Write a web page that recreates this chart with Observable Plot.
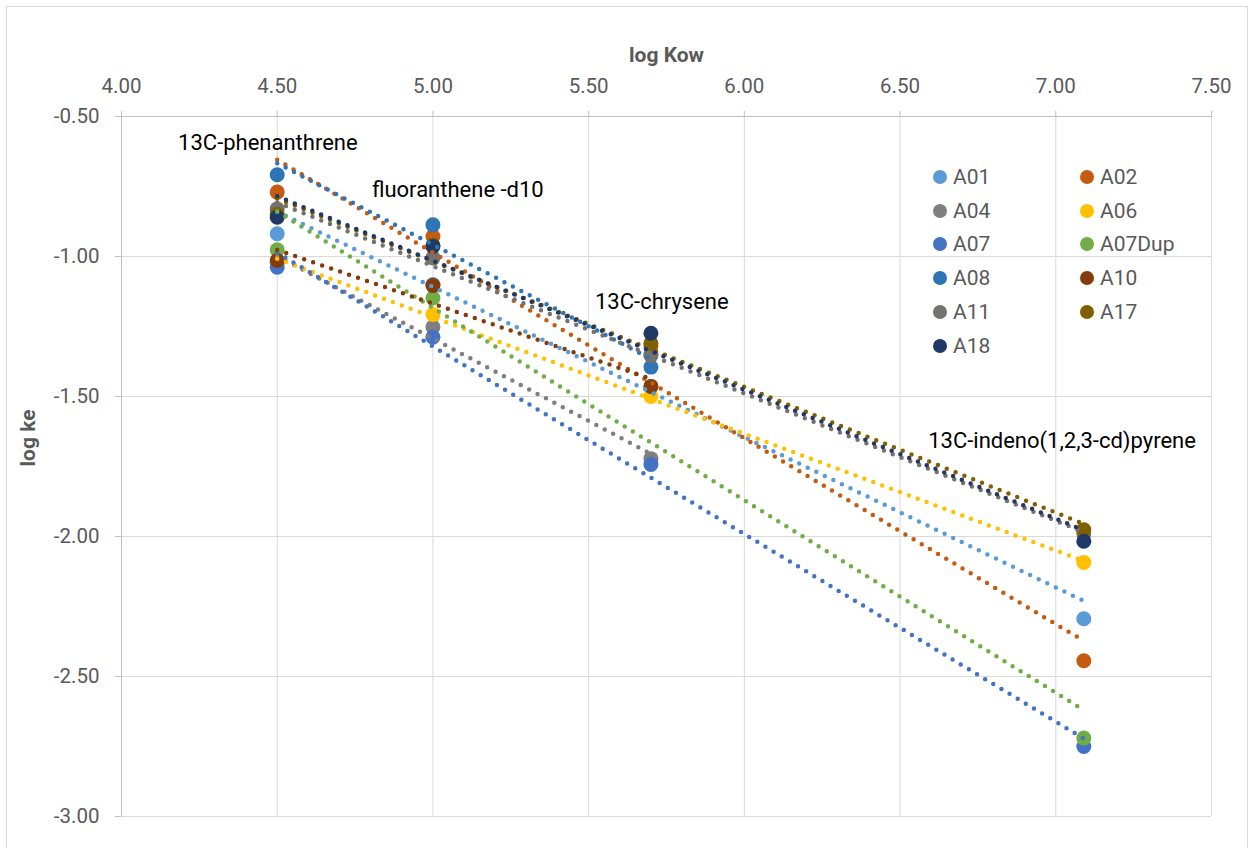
<!DOCTYPE html>
<html>
<head>
<meta charset="utf-8">
<script src="https://cdn.jsdelivr.net/npm/d3@7"></script>
<script src="https://cdn.jsdelivr.net/npm/@observablehq/plot@0.6"></script>
<style>
  html, body { margin: 0; padding: 0; background: #fff; overflow: hidden; }
  #wrap { position: relative; width: 1253px; height: 848px; }
  #frame { position: absolute; left: 6px; top: 6px; width: 1240px; height: 860px; border: 1px solid #D9D9D9; pointer-events: none; }
  #legend { position: absolute; left: 933px; top: 160px; display: grid; grid-template-columns: 147px 147px; grid-auto-rows: 33.8px; font-family: Roboto, sans-serif; font-size: 21px; color: #595959; }
  #legend .item { display: flex; align-items: center; }
  #legend .sw { width: 14px; height: 14px; border-radius: 50%; margin-right: 6px; }
</style>
</head>
<body>
<div id="wrap"><div id="chart"></div><div id="legend"></div><div id="frame"></div></div>
<script>
// x positions (log Kow) of the four compounds
const xKow = [4.5, 5.0, 5.7, 7.09];
const compoundLabels = ["13C-phenanthrene", "fluoranthene -d10", "13C-chrysene", "13C-indeno(1,2,3-cd)pyrene"];
const labelX = [4.47, 5.08, 5.735, 7.02];
const labelY = [-0.593, -0.764, -1.164, -1.657];

const seriesNames = ["A01", "A02", "A04", "A06", "A07", "A07Dup", "A08", "A10", "A11", "A17", "A18"];
const seriesColors = ["#5B9BD5", "#C55A11", "#7F7F7F", "#FFC000", "#4472C4", "#70AD47", "#2E75B6", "#843C0C", "#767171", "#7F6000", "#203864"];

// log ke values at each x (null = no value)
const A01 = [-0.919, -1.100, -1.350, -2.294];
const A02 = [-0.770, -0.929, -1.320, -2.444];
const A04 = [-1.023, -1.252, -1.722, null];
const A06 = [-1.020, -1.207, -1.500, -2.093];
const A07 = [-1.038, -1.288, -1.743, -2.750];
const A07Dup = [-0.976, -1.148, -1.464, -2.720];
const A08 = [-0.708, -0.887, -1.395, null];
const A10 = [-1.014, -1.104, -1.464, null];
const A11 = [-0.830, -1.005, -1.354, -1.990];
const A17 = [-0.850, -0.960, -1.310, -1.976];
const A18 = [-0.860, -0.964, -1.274, -2.017];

const seriesValues = [A01, A02, A04, A06, A07, A07Dup, A08, A10, A11, A17, A18];

const xTicks = [4, 4.5, 5, 5.5, 6, 6.5, 7, 7.5];
const yTicks = [-3, -2.5, -2, -1.5, -1, -0.5];

const rows = seriesNames.flatMap((s, i) =>
  seriesValues[i].map((v, j) => ({series: s, x: xKow[j], y: v})).filter(d => d.y != null)
);
const labels = compoundLabels.map((t, i) => ({text: t, x: labelX[i], y: labelY[i]}));
const fmt = d => d.toFixed(2);

const chart = Plot.plot({
  width: 1253,
  height: 848,
  marginLeft: 121,
  marginRight: 42,
  marginTop: 116,
  marginBottom: 32,
  style: {fontFamily: "Roboto, sans-serif", fontSize: "20.5px", color: "#595959", background: "transparent"},
  x: {domain: [4, 7.5]},
  y: {domain: [-3, -0.5]},
  color: {domain: seriesNames, range: seriesColors},
  marks: [
    Plot.gridX(xTicks, {stroke: "#D9D9D9", strokeOpacity: 1}),
    Plot.gridY(yTicks, {stroke: "#D9D9D9", strokeOpacity: 1}),
    Plot.ruleY([-0.5], {stroke: "#BFBFBF"}),
    Plot.ruleX([4], {stroke: "#BFBFBF"}),
    Plot.axisX(xTicks, {anchor: "top", tickFormat: fmt, tickSize: 6, tickPadding: 18, stroke: "#BFBFBF", fill: "#595959", label: null}),
    Plot.axisY(yTicks, {anchor: "left", tickFormat: fmt, tickSize: 6, tickPadding: 16, stroke: "#BFBFBF", fill: "#595959", label: null}),
    Plot.text(["log Kow"], {frameAnchor: "top", dy: -69, fontWeight: "bold", fill: "#595959", fontSize: 21}),
    Plot.text(["log ke"], {frameAnchor: "left", dx: -93, rotate: -90, fontWeight: "bold", fill: "#595959", fontSize: 21}),
    Plot.dot(rows, {x: "x", y: "y", fill: "series", r: 7.5}),
    Plot.linearRegressionY(rows, {x: "x", y: "y", stroke: "series", ci: 0, strokeWidth: 4.5, strokeDasharray: "0 9.5", strokeLinecap: "round"}),
    Plot.text(labels, {x: "x", y: "y", text: "text", fill: "black", fontSize: 22})
  ]
});
document.getElementById("chart").appendChild(chart);

const legend = document.getElementById("legend");
seriesNames.forEach((s, i) => {
  const it = document.createElement("div");
  it.className = "item";
  const sw = document.createElement("span");
  sw.className = "sw";
  sw.style.background = seriesColors[i];
  const tx = document.createElement("span");
  tx.textContent = s;
  it.appendChild(sw); it.appendChild(tx);
  legend.appendChild(it);
});
</script>
</body>
</html>
